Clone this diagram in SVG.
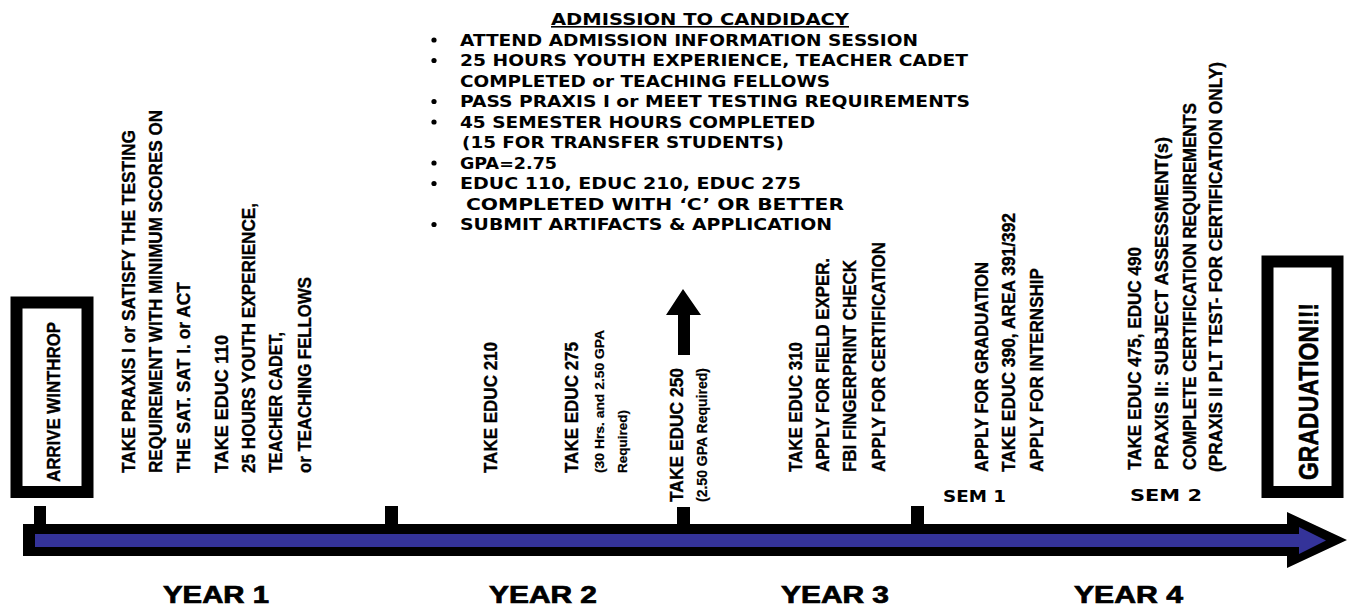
<svg xmlns="http://www.w3.org/2000/svg" width="1347" height="613" viewBox="0 0 1347 613">
<style>
.v{font-family:"Liberation Sans Narrow","Liberation Sans",Arial,sans-serif;font-weight:bold;font-size:18px;fill:#000;stroke:#000;stroke-width:0.35}
.vs{font-family:"Liberation Sans Narrow","Liberation Sans",Arial,sans-serif;font-weight:bold;font-size:13px;fill:#000;stroke:#000;stroke-width:0.2}
.w{font-family:"DejaVu Sans","Liberation Sans",sans-serif;font-weight:bold;font-size:15.5px;fill:#000}
.yr{font-family:"Liberation Sans Narrow","Liberation Sans",Arial,sans-serif;font-weight:bold;font-size:23px;fill:#000;stroke:#000;stroke-width:0.7}
.box{fill:#fff;stroke:#000;stroke-width:12}
.tick{fill:#000}
</style>
<rect width="1347" height="613" fill="#fff"/>

<g id="timeline">
  <polygon points="23,524 1287,524 1287,512 1347,540 1287,568 1287,556 23,556" fill="#000"/>
  <polygon points="35,534 1299,534 1299,527 1326,540.5 1299,554 1299,547 35,547" fill="#343399"/>
  <rect class="tick" x="34" y="506" width="12" height="19"/>
  <rect class="tick" x="385" y="506" width="13" height="19"/>
  <rect class="tick" x="677" y="507" width="13" height="18"/>
  <rect class="tick" x="911" y="506" width="13" height="19"/>
</g>

<g id="connectors">
  <polygon points="683,289 701,315 690,315 690,355 678,355 678,315 666,315" fill="#000"/>
</g>

<g id="arrive">
  <rect class="box" x="16.5" y="302.5" width="71" height="189.5"/>
  <text class="v" transform="translate(60,482) rotate(-90)" textLength="160" lengthAdjust="spacingAndGlyphs">ARRIVE WINTHROP</text>
</g>

<g id="graduation">
  <rect class="box" x="1267.5" y="261.5" width="70" height="230.5"/>
  <text class="v" style="font-size:28px;stroke-width:0.6" transform="translate(1318,480) rotate(-90)" textLength="177" lengthAdjust="spacingAndGlyphs">GRADUATION!!!</text>
</g>

<g id="admission">
  <text class="w" x="551" y="24.5" textLength="298" lengthAdjust="spacingAndGlyphs">ADMISSION TO CANDIDACY</text>
  <rect x="551" y="26" width="298" height="1.6" fill="#000"/>
  <g fill="#000">
    <circle cx="434" cy="40" r="2.6"/>
    <circle cx="434" cy="60.5" r="2.6"/>
    <circle cx="434" cy="101.5" r="2.6"/>
    <circle cx="434" cy="122" r="2.6"/>
    <circle cx="434" cy="163" r="2.6"/>
    <circle cx="434" cy="183.5" r="2.6"/>
    <circle cx="434" cy="224.5" r="2.6"/>
  </g>
  <text class="w" x="460" y="45.5" textLength="458" lengthAdjust="spacingAndGlyphs">ATTEND ADMISSION INFORMATION SESSION</text>
  <text class="w" x="460" y="66" textLength="508" lengthAdjust="spacingAndGlyphs">25 HOURS YOUTH EXPERIENCE, TEACHER CADET</text>
  <text class="w" x="460" y="86.5" textLength="370" lengthAdjust="spacingAndGlyphs">COMPLETED or TEACHING FELLOWS</text>
  <text class="w" x="460" y="107" textLength="510" lengthAdjust="spacingAndGlyphs">PASS PRAXIS I or MEET TESTING REQUIREMENTS</text>
  <text class="w" x="460" y="127.5" textLength="355" lengthAdjust="spacingAndGlyphs">45 SEMESTER HOURS COMPLETED</text>
  <text class="w" x="462" y="148" textLength="322" lengthAdjust="spacingAndGlyphs">(15 FOR TRANSFER STUDENTS)</text>
  <text class="w" x="460" y="168.5" textLength="97" lengthAdjust="spacingAndGlyphs">GPA=2.75</text>
  <text class="w" x="460" y="189" textLength="341" lengthAdjust="spacingAndGlyphs">EDUC 110, EDUC 210, EDUC 275</text>
  <text class="w" x="466" y="209.5" textLength="378" lengthAdjust="spacingAndGlyphs">COMPLETED WITH ‘C’ OR BETTER</text>
  <text class="w" x="460" y="230" textLength="372" lengthAdjust="spacingAndGlyphs">SUBMIT ARTIFACTS &amp; APPLICATION</text>
</g>

<g id="year1-tasks">
  <text class="v" transform="translate(135,473) rotate(-90)" textLength="343" lengthAdjust="spacingAndGlyphs">TAKE PRAXIS I or SATISFY THE TESTING</text>
  <text class="v" transform="translate(162,473) rotate(-90)" textLength="363" lengthAdjust="spacingAndGlyphs">REQUIREMENT WITH MINIMUM SCORES ON</text>
  <text class="v" transform="translate(190,473) rotate(-90)" textLength="191" lengthAdjust="spacingAndGlyphs">THE SAT. SAT I. or ACT</text>
  <text class="v" transform="translate(228,473) rotate(-90)" textLength="138" lengthAdjust="spacingAndGlyphs">TAKE  EDUC 110</text>
  <text class="v" transform="translate(255,473) rotate(-90)" textLength="270" lengthAdjust="spacingAndGlyphs">25 HOURS YOUTH EXPERIENCE,</text>
  <text class="v" transform="translate(282,473) rotate(-90)" textLength="141" lengthAdjust="spacingAndGlyphs">TEACHER CADET,</text>
  <text class="v" transform="translate(311,473) rotate(-90)" textLength="196" lengthAdjust="spacingAndGlyphs">or TEACHING FELLOWS</text>
</g>

<g id="educ210">
  <text class="v" transform="translate(497,473) rotate(-90)" textLength="131" lengthAdjust="spacingAndGlyphs">TAKE EDUC 210</text>
</g>

<g id="educ275">
  <text class="v" transform="translate(578,473) rotate(-90)" textLength="131" lengthAdjust="spacingAndGlyphs">TAKE EDUC 275</text>
  <text class="vs" transform="translate(604,473) rotate(-90)" textLength="143" lengthAdjust="spacingAndGlyphs">(30 Hrs. and 2.50 GPA</text>
  <text class="vs" transform="translate(627,473) rotate(-90)" textLength="63" lengthAdjust="spacingAndGlyphs">Required)</text>
</g>

<g id="educ250">
  <text class="v" transform="translate(683,502) rotate(-90)" textLength="134" lengthAdjust="spacingAndGlyphs">TAKE EDUC 250</text>
  <text class="vs" style="font-size:14px" transform="translate(707,502) rotate(-90)" textLength="134" lengthAdjust="spacingAndGlyphs">(2.50 GPA Required)</text>
</g>

<g id="year3-tasks">
  <text class="v" transform="translate(802,472) rotate(-90)" textLength="130" lengthAdjust="spacingAndGlyphs">TAKE EDUC 310</text>
  <text class="v" transform="translate(829,472) rotate(-90)" textLength="214" lengthAdjust="spacingAndGlyphs">APPLY FOR FIELD EXPER.</text>
  <text class="v" transform="translate(856,472) rotate(-90)" textLength="212" lengthAdjust="spacingAndGlyphs">FBI FINGERPRINT CHECK</text>
  <text class="v" transform="translate(885,472) rotate(-90)" textLength="230" lengthAdjust="spacingAndGlyphs">APPLY FOR CERTIFICATION</text>
</g>

<g id="sem1">
  <text class="v" transform="translate(988,472) rotate(-90)" textLength="210" lengthAdjust="spacingAndGlyphs">APPLY FOR GRADUATION</text>
  <text class="v" transform="translate(1015,472) rotate(-90)" textLength="259" lengthAdjust="spacingAndGlyphs">TAKE EDUC 390, AREA 391/392</text>
  <text class="v" transform="translate(1043,472) rotate(-90)" textLength="204" lengthAdjust="spacingAndGlyphs">APPLY FOR INTERNSHIP</text>
  <text class="w" style="font-size:15px" x="943" y="502" textLength="63" lengthAdjust="spacingAndGlyphs">SEM 1</text>
</g>

<g id="sem2">
  <text class="v" transform="translate(1141,470) rotate(-90)" textLength="223" lengthAdjust="spacingAndGlyphs">TAKE EDUC 475, EDUC 490</text>
  <text class="v" transform="translate(1168,470) rotate(-90)" textLength="333" lengthAdjust="spacingAndGlyphs">PRAXIS II:  SUBJECT ASSESSMENT(s)</text>
  <text class="v" transform="translate(1196,470) rotate(-90)" textLength="367" lengthAdjust="spacingAndGlyphs">COMPLETE CERTIFICATION REQUIREMENTS</text>
  <text class="v" transform="translate(1222,472) rotate(-90)" textLength="410" lengthAdjust="spacingAndGlyphs">(PRAXIS II PLT TEST- FOR CERTIFICATION ONLY)</text>
  <text class="w" style="font-size:15px" x="1130" y="501" textLength="72" lengthAdjust="spacingAndGlyphs">SEM  2</text>
</g>

<g id="years">
  <text class="yr" x="163" y="603" textLength="106" lengthAdjust="spacingAndGlyphs">YEAR 1</text>
  <text class="yr" x="489" y="603" textLength="108" lengthAdjust="spacingAndGlyphs">YEAR 2</text>
  <text class="yr" x="781" y="603" textLength="108" lengthAdjust="spacingAndGlyphs">YEAR 3</text>
  <text class="yr" x="1074" y="603" textLength="109" lengthAdjust="spacingAndGlyphs">YEAR 4</text>
</g>
</svg>
